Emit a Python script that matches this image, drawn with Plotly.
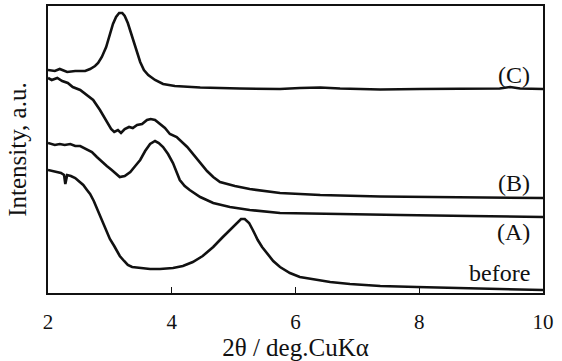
import plotly.graph_objects as go

# 2theta (deg) and intensity (a.u.)
x_C = [2.00, 2.11, 2.19, 2.31, 2.44, 2.60, 2.68, 2.76, 2.81, 2.87, 2.94, 3.00, 3.05, 3.10, 3.15, 3.20,
       3.24, 3.29, 3.34, 3.39, 3.44, 3.49, 3.55, 3.62, 3.73, 3.86, 4.05, 4.46, 5.10, 5.75, 6.07, 6.40,
       6.72, 7.37, 8.01, 8.66, 9.30, 9.47, 9.63, 10.0]
y_C = [223, 222, 224, 221, 222, 222, 224, 227, 230, 236, 246, 258, 269, 276, 280, 280,
       277, 270, 260, 249, 239, 231, 223, 218, 213, 209, 207, 205.5, 204.5, 204, 205, 205.5,
       204.5, 203.5, 204, 204, 204.5, 206, 204.5, 204]

x_B = [2.00, 2.06, 2.15, 2.23, 2.32, 2.40, 2.52, 2.63, 2.73, 2.84, 2.94, 3.02, 3.07, 3.13, 3.18, 3.24,
       3.31, 3.37, 3.44, 3.52, 3.60, 3.66, 3.73, 3.81, 3.89, 3.97, 4.08, 4.25, 4.34, 4.46, 4.57, 4.67,
       4.78, 5.02, 5.26, 5.75, 6.40, 7.37, 8.34, 9.30, 10.0]
y_B = [215, 213, 215, 212, 210, 206, 203, 198, 193, 183, 173, 164, 161, 163, 160, 164,
       166, 165, 168, 169, 173, 174, 173, 169, 165, 159, 156, 146, 139, 130, 122, 116,
       111, 107, 104, 100, 98, 96.5, 96, 95.5, 95]

x_A = [2.00, 2.11, 2.19, 2.27, 2.36, 2.44, 2.52, 2.61, 2.71, 2.79, 2.87, 2.95, 3.03, 3.10, 3.16, 3.24,
       3.33, 3.41, 3.49, 3.57, 3.65, 3.73, 3.79, 3.86, 3.94, 4.02, 4.13, 4.21, 4.29, 4.46, 4.67, 4.94,
       5.26, 5.75, 6.56, 7.69, 8.82, 10.0]
y_A = [150, 148, 149, 148, 149, 147, 147, 144, 141, 136, 131, 127, 123, 119, 116, 117,
       121, 127, 133, 142, 149, 152, 150, 146, 139, 130, 113, 107, 103, 96, 90, 86,
       83, 80, 79, 78, 77, 76]

x_before = [2.00, 2.08, 2.15, 2.21, 2.26, 2.28, 2.31, 2.37, 2.44, 2.50, 2.57, 2.63, 2.68, 2.74, 2.79, 2.84,
            2.89, 2.95, 3.00, 3.07, 3.12, 3.16, 3.23, 3.29, 3.36, 3.49, 3.65, 3.81, 4.02, 4.18, 4.34, 4.50,
            4.67, 4.81, 4.94, 5.04, 5.12, 5.18, 5.25, 5.31, 5.39, 5.46, 5.54, 5.64, 5.75, 5.91, 6.07, 6.35,
            6.56, 6.88, 7.37, 7.96, 8.50, 9.30, 10.0]
y_before = [123, 122, 121, 120, 118, 109, 118, 117, 115, 112, 108, 103, 99, 92, 85, 77,
            70, 61, 54, 47, 42, 37, 32, 28, 26, 25, 24, 24, 25, 27, 31, 37,
            46, 55, 63, 70, 74, 74, 70, 63, 53, 46, 40, 32, 26, 20, 16, 13,
            11, 9, 7, 6, 5, 4, 3]

series_labels = ["(C)", "(B)", "(A)", "before"]
label_y = [218, 110, 61, 20]
tick_vals = [2, 4, 6, 8, 10]
tick_text = ["2", "4", "6", "8", "10"]

FONT = "Liberation Serif"
INK = "#111111"
line = dict(color=INK, width=2.6)

fig = go.Figure()
for xs, ys in [(x_C, y_C), (x_B, y_B), (x_A, y_A), (x_before, y_before)]:
    fig.add_trace(go.Scatter(x=xs, y=ys, mode="lines", line=line, showlegend=False, hoverinfo="skip"))

for lab, ly in zip(series_labels, label_y):
    fig.add_annotation(x=9.83, y=ly, xref="x", yref="y", text=lab, showarrow=False,
                       xanchor="right", yanchor="middle", font=dict(family=FONT, size=24, color=INK))

fig.add_annotation(x=-0.062, y=0.5, xref="paper", yref="paper", text="Intensity, a.u.", textangle=-90,
                   showarrow=False, xanchor="center", yanchor="middle",
                   font=dict(family=FONT, size=25, color=INK))

fig.update_layout(
    width=562, height=361,
    margin=dict(l=48, r=19, t=6, b=68, autoexpand=False),
    paper_bgcolor="white", plot_bgcolor="white",
    font=dict(family=FONT, color=INK),
    xaxis=dict(range=[2, 10], tickvals=tick_vals, ticktext=tick_text, ticks="inside", ticklen=6,
               tickwidth=1.3, tickcolor=INK, showline=True, linecolor=INK, linewidth=1.8,
               mirror=True, showgrid=False, zeroline=False, automargin=False,
               tickfont=dict(family=FONT, size=21, color=INK),
               ticklabelstandoff=9,
               title=dict(text="2θ / deg.CuKα", font=dict(family=FONT, size=25, color=INK), standoff=0)),
    yaxis=dict(range=[0, 287], showticklabels=False, ticks="", showline=True, linecolor=INK,
               linewidth=1.8, mirror=True, showgrid=False, zeroline=False, automargin=False),
)

fig.write_html("out.html", config={"displayModeBar": False},
               post_script="document.body.style.margin='0';document.body.style.padding='0';")
